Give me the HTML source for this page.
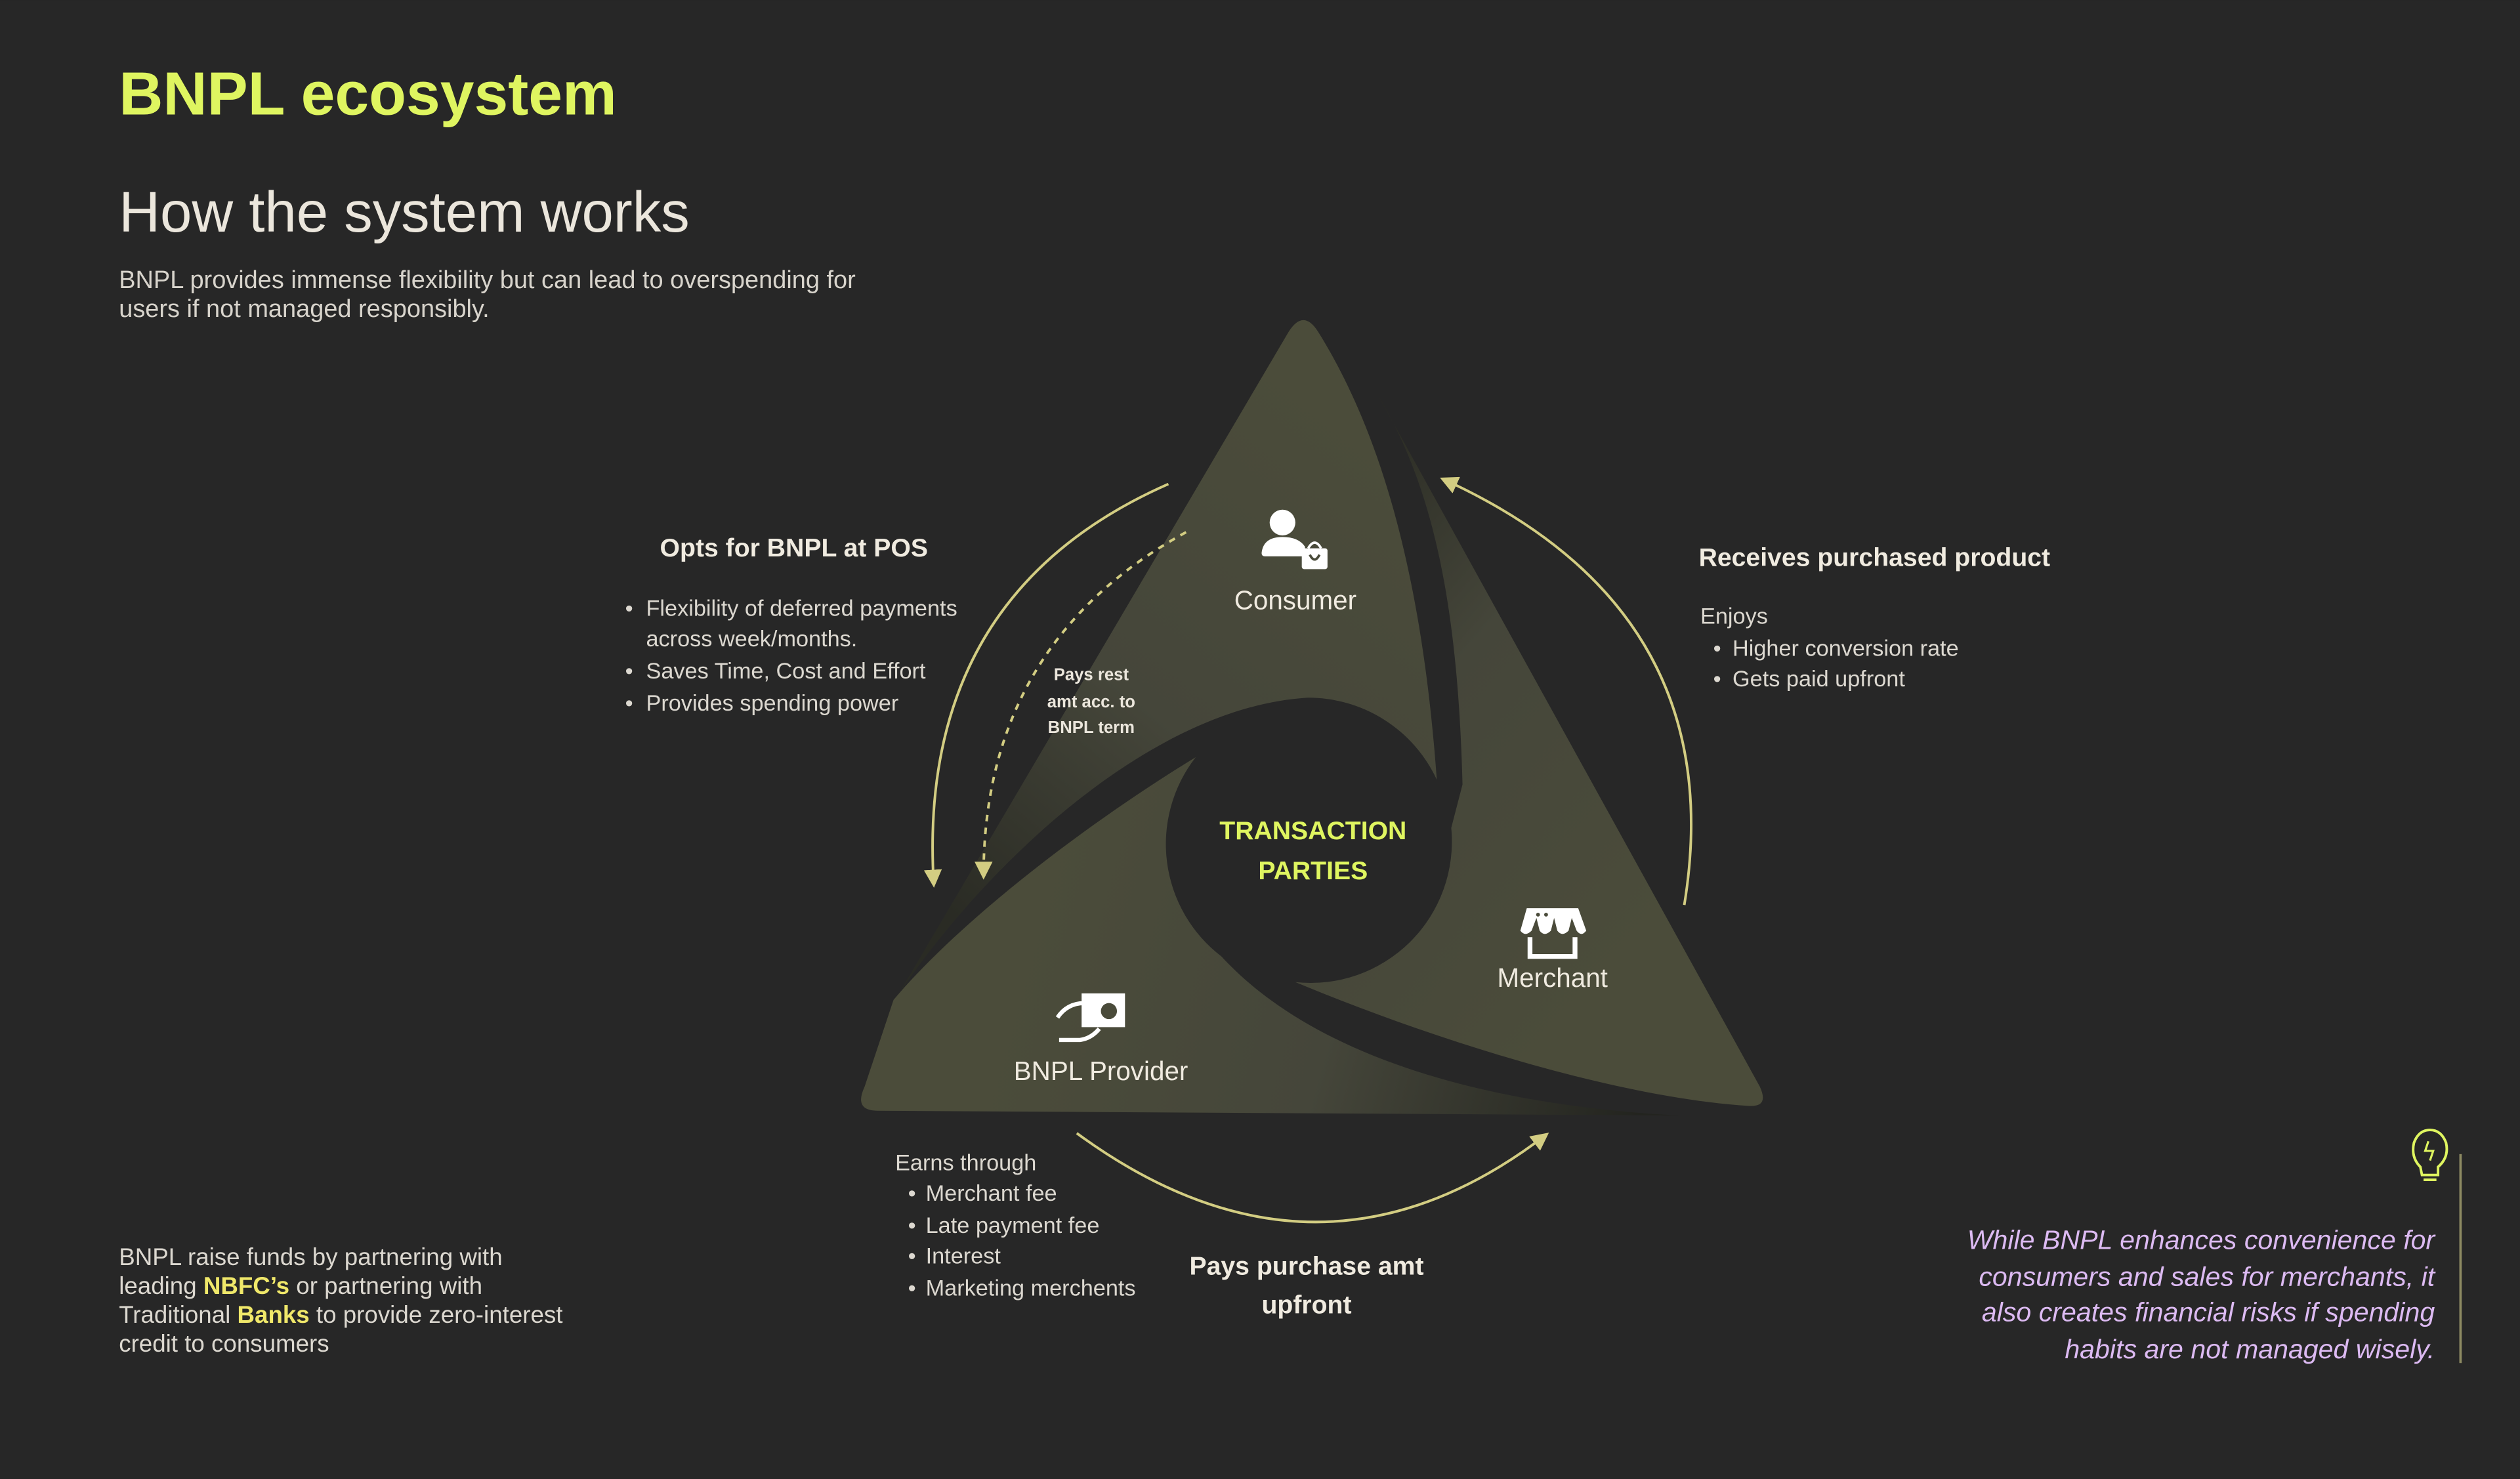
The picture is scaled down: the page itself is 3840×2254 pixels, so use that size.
<!DOCTYPE html>
<html><head><meta charset="utf-8"><style>
html,body{margin:0;padding:0;background:#272727;}
svg{display:block}
text{font-family:"Liberation Sans",sans-serif;}
</style></head><body>
<svg width="3840" height="2254" viewBox="0 0 1568 920" xmlns="http://www.w3.org/2000/svg">
<defs>
<linearGradient id="gc" x1="0.75" y1="0.1" x2="0.2" y2="0.95"><stop offset="0" stop-color="#4b4c3a"/><stop offset="0.55" stop-color="#45463a"/><stop offset="1" stop-color="#2a2b24"/></linearGradient>
<linearGradient id="gm" x1="0.1" y1="0" x2="0.7" y2="0.8"><stop offset="0" stop-color="#25261f"/><stop offset="0.45" stop-color="#45463a"/><stop offset="1" stop-color="#4b4c3a"/></linearGradient>
<linearGradient id="gb" x1="0.2" y1="0.5" x2="1" y2="0.6"><stop offset="0" stop-color="#4b4c3a"/><stop offset="0.5" stop-color="#45463a"/><stop offset="1" stop-color="#23241f"/></linearGradient>
<marker id="ah" viewBox="0 0 10 10" refX="8" refY="5" markerWidth="7" markerHeight="7" orient="auto-start-reverse"><path d="M0,0 L10,5 L0,10 Z" fill="#d3cd82"/></marker>
</defs>
<rect width="1568" height="920" fill="#272727"/>

<text x="74" y="71" font-size="38" font-weight="bold" fill="#dff560">BNPL ecosystem</text>
<text x="74" y="144" font-size="35.5" fill="#ebe6dc">How the system works</text>
<g font-size="15.5" fill="#d8d4cc">
<text x="74" y="179">BNPL provides immense flexibility but can lead to overspending for</text>
<text x="74" y="197">users if not managed responsibly.</text>
</g>

<!-- lobes -->
<path d="M802,206 L560,617 C620,530 720,440 813,434 A88,88 0 0 1 894,485 C885,360 860,270 820,206 Q811,192 802,206 Z" fill="url(#gc)"/>
<path d="M857,245 L1095,676 Q1101,689 1088,688 C1010,683 900,650 806,611 A88,88 0 0 0 903,515 L910,488 C907,370 890,300 857,245 Z" fill="url(#gm)"/>
<path d="M744,471 C680,510 600,570 556,622 L538,676 Q531,691 546,691 L1045,694 C930,688 820,660 760,595 A88,88 0 0 1 744,471 Z" fill="url(#gb)"/>

<!-- arrows -->
<path d="M727,301 Q570,370 581,550" fill="none" stroke="#d3cd82" stroke-width="1.6" marker-end="url(#ah)"/>
<path d="M738,331 Q612,400 612,545" fill="none" stroke="#d3cd82" stroke-width="1.6" stroke-dasharray="4,4" marker-end="url(#ah)"/>
<path d="M1048,563 Q1078,380 898,298" fill="none" stroke="#d3cd82" stroke-width="1.6" marker-end="url(#ah)"/>
<path d="M670,705 Q820,815 962,706" fill="none" stroke="#d3cd82" stroke-width="1.6" marker-end="url(#ah)"/>

<!-- consumer icon -->
<circle cx="798" cy="325" r="8" fill="#fff"/>
<path d="M785,344 Q786,334 798,334 Q808,334 812,340 L812,346 L787,346 Q785,346 785,344 Z" fill="#fff"/>
<rect x="810" y="341" width="16" height="13" rx="1.5" fill="#fff"/>
<path d="M814,341 Q818,334 822,341" fill="none" stroke="#fff" stroke-width="1.5"/>
<path d="M815,345 Q818,351 821,345" fill="none" stroke="#4a4b3a" stroke-width="1.5"/>
<text x="806" y="379" font-size="16.5" font-weight="500" fill="#f0ebe0" text-anchor="middle">Consumer</text>

<!-- merchant icon -->
<path d="M950,565 L982,565 L987,579 Q984,583 981,579 L978,571 L976,579 Q972,583 969,579 L967,571 L965,579 Q961,583 958,579 L956,571 L953,579 Q949,583 946,579 Z" fill="#fff"/>
<path d="M952,583 L952,595 L980,595 L980,583" fill="none" stroke="#fff" stroke-width="3"/>
<circle cx="957" cy="569" r="1.2" fill="#4a4b3a"/><circle cx="962" cy="569" r="1.2" fill="#4a4b3a"/>
<text x="966" y="614" font-size="16.5" font-weight="500" fill="#f0ebe0" text-anchor="middle">Merchant</text>

<!-- BNPL icon -->
<rect x="673" y="618" width="27" height="21" fill="#fff"/>
<circle cx="690" cy="629" r="5" fill="#4a4b3a"/>
<path d="M658,633 Q664,624 675,624 L683,630 Q680,636 675,634 M659,647 L672,647 Q679,646 684,640" fill="none" stroke="#fff" stroke-width="2.6"/>
<text x="685" y="672" font-size="16.5" font-weight="500" fill="#f0ebe0" text-anchor="middle">BNPL Provider</text>

<text x="817" y="522" font-size="16" font-weight="bold" fill="#dff560" text-anchor="middle">TRANSACTION</text>
<text x="817" y="547" font-size="16" font-weight="bold" fill="#dff560" text-anchor="middle">PARTIES</text>

<g font-size="10.5" font-weight="bold" fill="#ebe6dc" text-anchor="middle">
<text x="679" y="423">Pays rest</text><text x="679" y="440">amt acc. to</text><text x="679" y="456">BNPL term</text></g>

<text x="494" y="346" font-size="16" font-weight="bold" fill="#f0ebe0" text-anchor="middle">Opts for BNPL at POS</text>
<g font-size="14" fill="#dcd8d0">
<text x="389" y="383">•</text><text x="402" y="383">Flexibility of deferred payments</text>
<text x="402" y="402">across week/months.</text>
<text x="389" y="422">•</text><text x="402" y="422">Saves Time, Cost and Effort</text>
<text x="389" y="442">•</text><text x="402" y="442">Provides spending power</text>

<text x="1058" y="388">Enjoys</text>
<text x="1066" y="408">•</text><text x="1078" y="408">Higher conversion rate</text>
<text x="1066" y="427">•</text><text x="1078" y="427">Gets paid upfront</text>

<text x="557" y="728">Earns through</text>
<text x="565" y="747">•</text><text x="576" y="747">Merchant fee</text>
<text x="565" y="767">•</text><text x="576" y="767">Late payment fee</text>
<text x="565" y="786">•</text><text x="576" y="786">Interest</text>
<text x="565" y="806">•</text><text x="576" y="806">Marketing merchents</text>
</g>
<text x="1057" y="352" font-size="16" font-weight="bold" fill="#f0ebe0">Receives purchased product</text>
<text x="813" y="793" font-size="16" font-weight="bold" fill="#f0ebe0" text-anchor="middle">Pays purchase amt</text>
<text x="813" y="817" font-size="16" font-weight="bold" fill="#f0ebe0" text-anchor="middle">upfront</text>

<g font-size="15" fill="#dcd8d0">
<text x="74" y="787">BNPL raise funds by partnering with</text>
<text x="74" y="805">leading <tspan font-weight="bold" fill="#f0e86a">NBFC’s</tspan> or partnering with</text>
<text x="74" y="823">Traditional <tspan font-weight="bold" fill="#f0e86a">Banks</tspan> to provide zero-interest</text>
<text x="74" y="841">credit to consumers</text>
</g>

<!-- bulb -->
<path d="M1506,726 Q1500,720 1502,711 Q1505,703 1512,703 Q1519,703 1522,711 Q1524,720 1517,726 L1517,731 L1507,731 Z" fill="none" stroke="#dff560" stroke-width="1.6"/>
<path d="M1508,734 L1516,734" stroke="#dff560" stroke-width="1.6"/>
<path d="M1511,710 L1509,716 L1514,716 L1512,722" fill="none" stroke="#dff560" stroke-width="1.3"/>
<line x1="1531" y1="718" x2="1531" y2="848" stroke="#8d8a62" stroke-width="1.5"/>
<g font-size="16.8" font-style="italic" fill="#dcbaf2" text-anchor="end">
<text x="1515" y="777">While BNPL enhances convenience for</text>
<text x="1515" y="800">consumers and sales for merchants, it</text>
<text x="1515" y="822">also creates financial risks if spending</text>
<text x="1515" y="845">habits are not managed wisely.</text>
</g>
</svg>
</body></html>
